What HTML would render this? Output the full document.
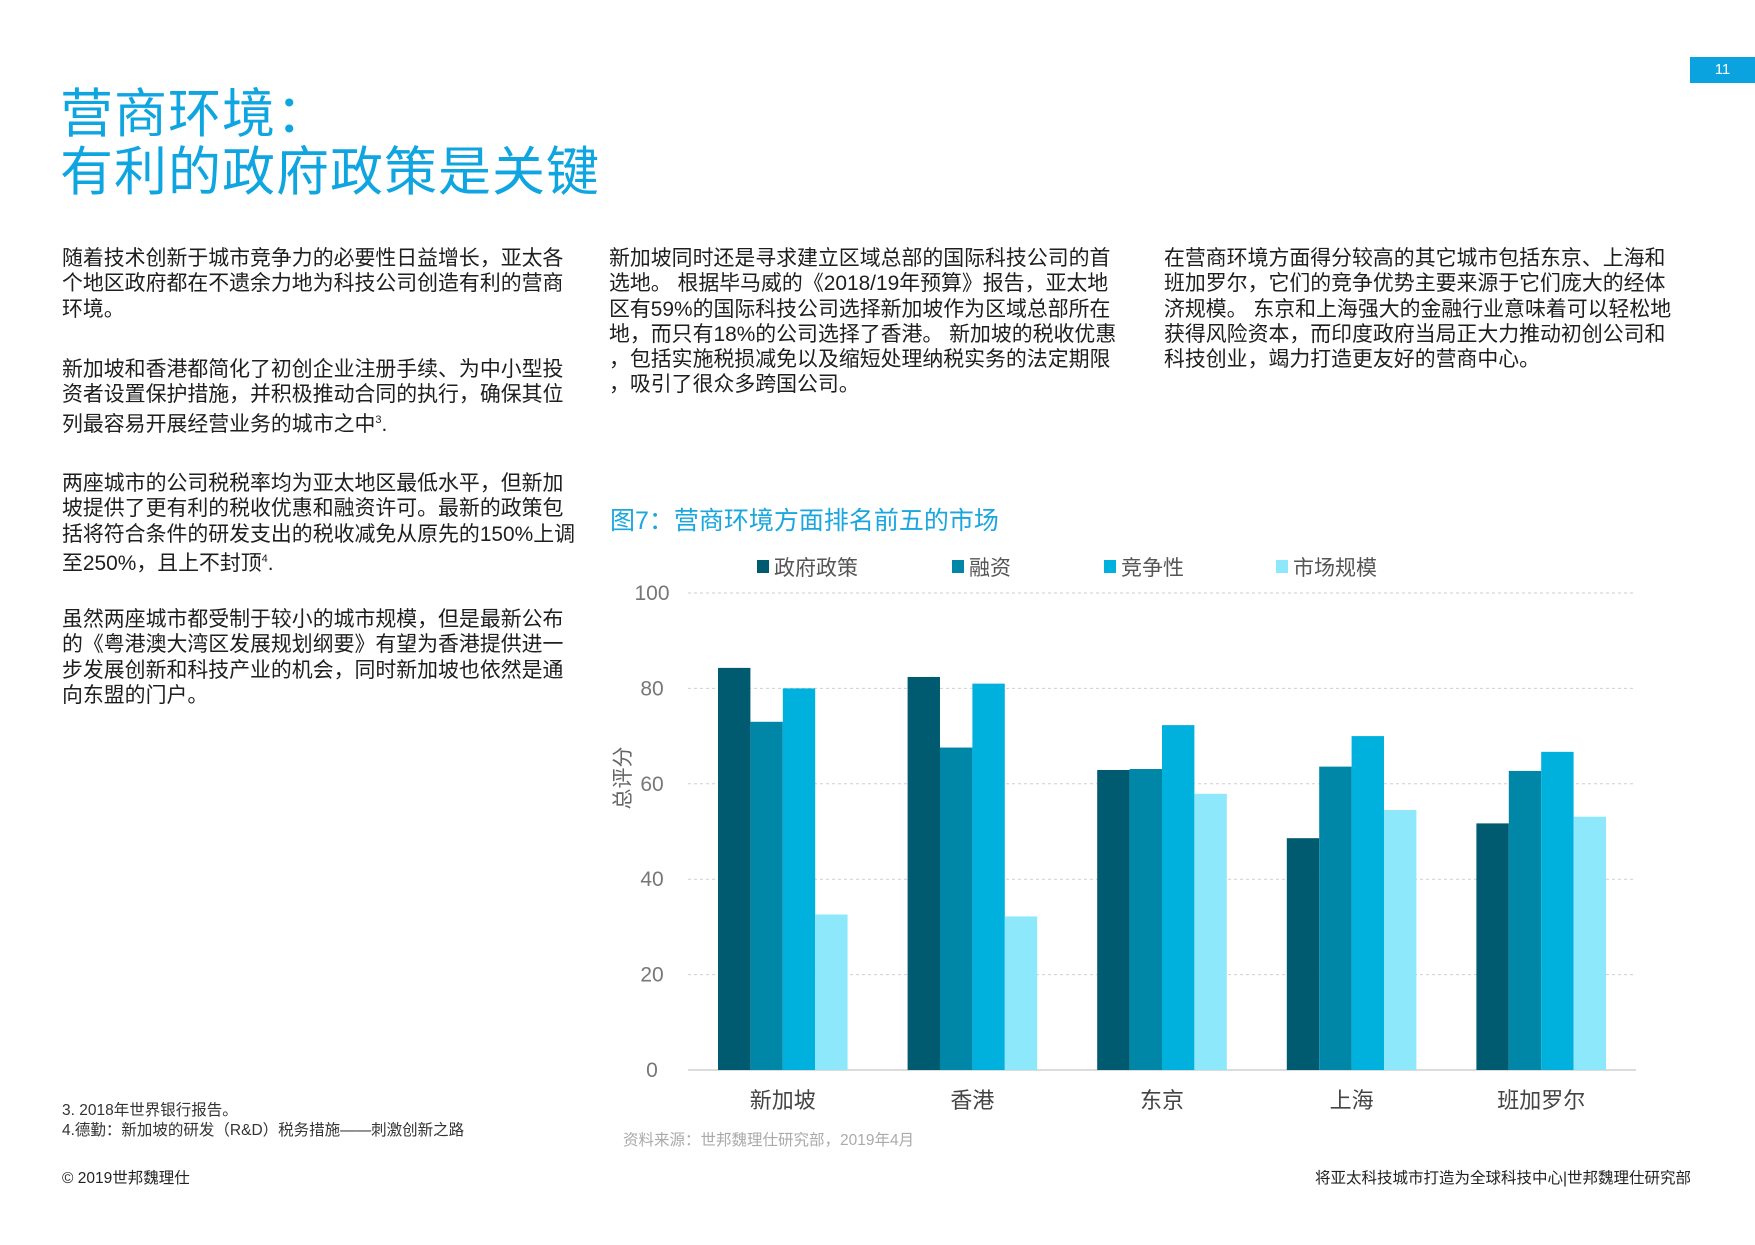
<!DOCTYPE html>
<html><head><meta charset="utf-8">
<style>
body{margin:0;background:#fff;}
#page{position:relative;width:1755px;height:1245px;overflow:hidden;background:#fff;font-family:"Liberation Sans","Noto Sans CJK SC",sans-serif;color:#222;}
.t{position:absolute;white-space:nowrap;}
.p{position:absolute;white-space:nowrap;font-size:20.9px;line-height:25.3px;color:#1e1e1e;}
.title{position:absolute;left:60px;top:86px;font-size:53px;line-height:58px;color:#0ea5e0;font-family:"Liberation Sans","Noto Sans CJK SC",sans-serif;letter-spacing:1px;}
sup{font-size:11px;}
</style></head>
<body>
<div id="page">
<div class="t" style="left:1690px;top:57px;width:65px;height:26px;background:#0aa3e0;color:#fff;font-size:15px;line-height:26px;text-align:center;">11</div>
<div class="title">营商环境：<br>有利的政府政策是关键</div>

<div class="p" style="left:62px;top:246px;">随着技术创新于城市竞争力的必要性日益增长，亚太各<br>个地区政府都在不遗余力地为科技公司创造有利的营商<br>环境。</div>
<div class="p" style="left:62px;top:357px;">新加坡和香港都简化了初创企业注册手续、为中小型投<br>资者设置保护措施，并积极推动合同的执行，确保其位<br>列最容易开展经营业务的城市之中<sup>3</sup>.</div>
<div class="p" style="left:62px;top:471px;">两座城市的公司税税率均为亚太地区最低水平，但新加<br>坡提供了更有利的税收优惠和融资许可。最新的政策包<br>括将符合条件的研发支出的税收减免从原先的150%上调<br>至250%，且上不封顶<sup>4</sup>.</div>
<div class="p" style="left:62px;top:607px;">虽然两座城市都受制于较小的城市规模，但是最新公布<br>的《粤港澳大湾区发展规划纲要》有望为香港提供进一<br>步发展创新和科技产业的机会，同时新加坡也依然是通<br>向东盟的门户。</div>
<div class="p" style="left:609px;top:246px;">新加坡同时还是寻求建立区域总部的国际科技公司的首<br>选地。 根据毕马威的《2018/19年预算》报告，亚太地<br>区有59%的国际科技公司选择新加坡作为区域总部所在<br>地，而只有18%的公司选择了香港。 新加坡的税收优惠<br>，包括实施税损减免以及缩短处理纳税实务的法定期限<br>，吸引了很众多跨国公司。</div>
<div class="p" style="left:1164px;top:246px;">在营商环境方面得分较高的其它城市包括东京、上海和<br>班加罗尔，它们的竞争优势主要来源于它们庞大的经体<br>济规模。 东京和上海强大的金融行业意味着可以轻松地<br>获得风险资本，而印度政府当局正大力推动初创公司和<br>科技创业，竭力打造更友好的营商中心。</div>

<div class="t" style="left:62px;top:1098px;font-size:15.5px;color:#333;">3. 2018年世界银行报告。</div>
<div class="t" style="left:62px;top:1118px;font-size:15.5px;color:#333;">4.德勤：新加坡的研发（R&amp;D）税务措施——刺激创新之路</div>
<div class="t" style="left:62px;top:1166px;font-size:15.5px;color:#222;">© 2019世邦魏理仕</div>
<div class="t" style="right:64px;top:1166px;font-size:15.5px;color:#222;">将亚太科技城市打造为全球科技中心|世邦魏理仕研究部</div>

<svg id="chart" width="1755" height="1245" style="position:absolute;left:0;top:0;" xmlns="http://www.w3.org/2000/svg"></svg>
</div>
<script>
const categories=["新加坡","香港","东京","上海","班加罗尔"];
const seriesNames=["政府政策","融资","竞争性","市场规模"];
const govPolicy=[84.3,82.4,62.9,48.6,51.7];
const financing=[73.0,67.6,63.1,63.6,62.7];
const competitiveness=[80.0,81.0,72.3,70.0,66.7];
const marketSize=[32.6,32.2,57.9,54.5,53.1];
const yTicks=[0,20,40,60,80,100];
const colors=["#005a70","#0087a8","#00b0dd","#8ee8fb"];
const series=[govPolicy,financing,competitiveness,marketSize];

const svg=document.getElementById('chart');
const NS="http://www.w3.org/2000/svg";
const X0=688,X1=1636,Y0=1070,Y100=593;
const y=v=>Y0-(v/100)*(Y0-Y100);
const band=(X1-X0)/categories.length, bw=32.4;
const xBar=(ci,si)=>X0+ci*band+(band-bw*series.length)/2+si*bw;
function mk(tag,attrs,txt){const e=document.createElementNS(NS,tag);for(const k in attrs)e.setAttribute(k,attrs[k]);if(txt!==undefined)e.textContent=txt;svg.appendChild(e);return e;}
const F='"Liberation Sans","Noto Sans CJK SC",sans-serif';

let e=mk('text',{x:610,y:529,'font-size':25,fill:'#1aa6de','font-family':F},'图7：营商环境方面排名前五的市场');



yTicks.forEach(t=>{
  const l=mk('line',{x1:X0,x2:X1,y1:y(t),y2:y(t),stroke:t===0?'#d0d0d0':'#cfcfcf','stroke-width':t===0?1.5:1,'stroke-dasharray':t===0?'':'3,3'});
  
  
  const tx=mk('text',{x:652,y:y(t)+7,'font-size':21,fill:'#777','text-anchor':'middle','font-family':F},String(t));
  
  
});

e=mk('text',{x:0,y:0,'font-size':21,fill:'#666','text-anchor':'middle','font-family':F,transform:'translate(630,778) rotate(-90)'},'总评分');



series.forEach((s,si)=>{
  s.forEach((v,ci)=>{
    const r=mk('rect',{x:xBar(ci,si),y:y(v),width:bw,height:Y0-y(v),fill:colors[si]});
    
    
  });
});

categories.forEach((c,ci)=>{
  const t=mk('text',{x:X0+ci*band+band/2,y:1108,'font-size':22,fill:'#444','text-anchor':'middle','font-family':F},c);
  
  
});

const legX=[757,952,1104,1276];
seriesNames.forEach((n,si)=>{
  const r=mk('rect',{x:legX[si],y:560,width:12,height:13,fill:colors[si]});
  
  
  const t=mk('text',{x:legX[si]+17,y:575,'font-size':21,fill:'#555','font-family':F},n);
  
  
});

e=mk('text',{x:623,y:1145,'font-size':15.5,fill:'#aaa','font-family':F},'资料来源：世邦魏理仕研究部，2019年4月');


</script>
</body></html>
